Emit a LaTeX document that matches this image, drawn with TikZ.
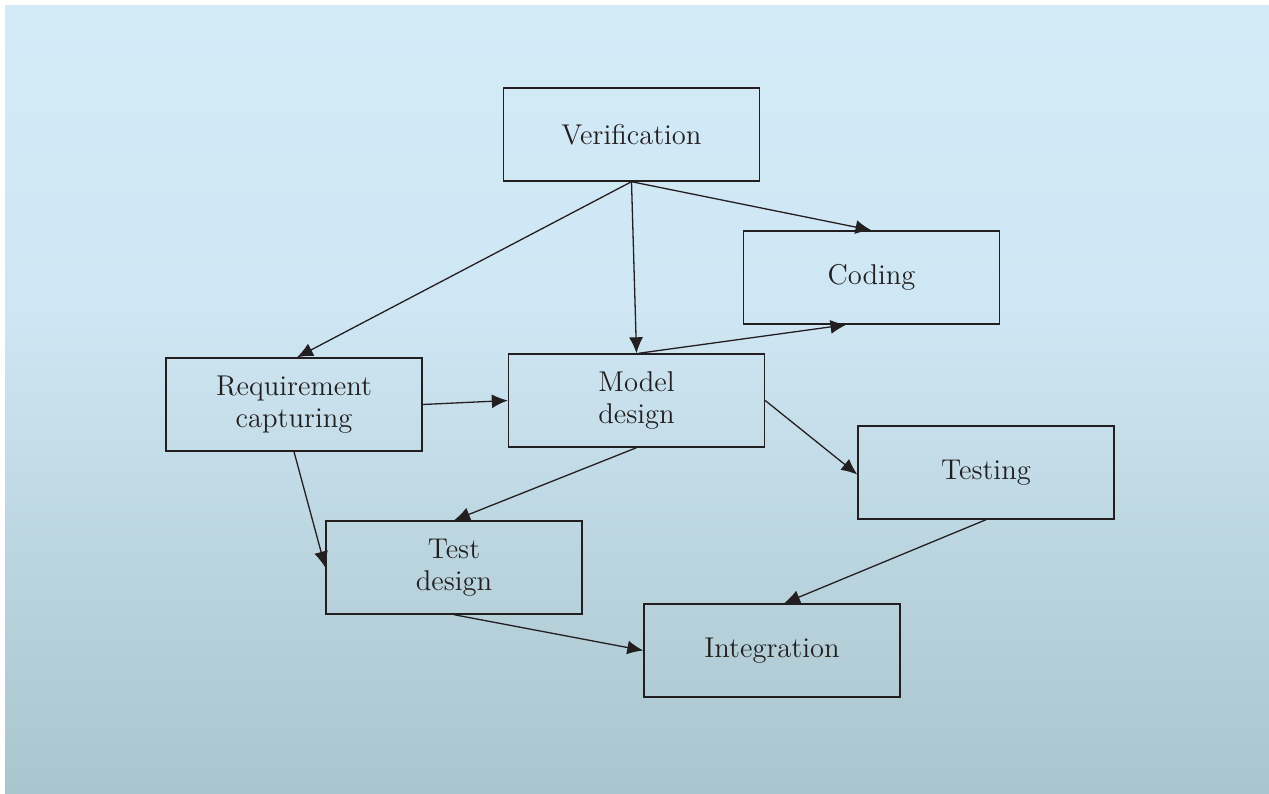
\documentclass[tikz,border=0pt]{standalone}
\usepackage{tikz}
\usetikzlibrary{arrows.meta,backgrounds}

\definecolor{bgtop}{RGB}{211,234,247}
\definecolor{bgmid}{RGB}{207,231,244}
\definecolor{bgbot}{RGB}{169,197,205}
\definecolor{boxline}{RGB}{35,31,32}
\pgfdeclareverticalshading{bgshade}{100bp}{color(0bp)=(bgbot); color(25bp)=(bgbot); color(56bp)=(bgmid); color(75bp)=(bgtop); color(100bp)=(bgtop)}

\tikzset{
	stage/.style={draw=boxline, line width=0.7pt, minimum width=128pt, minimum height=46.5pt, align=center, inner sep=2pt, font=\fontsize{14.3}{16}\selectfont, text=boxline},
	flow/.style={color=boxline, line width=0.65pt, -{Latex[length=8pt,width=7pt]}}
}

\begin{document}
\begin{tikzpicture}[x=0.5pt, y=-0.5pt]
		\useasboundingbox (0,0) rectangle (1269,793);
		\shade[shading=bgshade] (5,5) rectangle (1269,793);
		% stages of the flow
		\node[stage] (verif) at (631.5,134.5) {Verification};
		\node[stage] (cod) at (871.5,277.5) {Coding};
		\node[stage] (req) at (294,404.5) {Requirement\\capturing};
		\node[stage] (mod) at (636.5,400.5) {Model\\design};
		\node[stage] (tst) at (986,472.5) {Testing};
		\node[stage] (tsd) at (454,567.5) {Test\\design};
		\node[stage] (integ) at (772,650.5) {Integration};
		\path[flow]
		(verif.south) edge ([xshift=1.5pt]req.north)
		(verif.south) edge (mod.north)
		(verif.south) edge (cod.north)
		([xshift=1pt]mod.north) edge ([xshift=-12.5pt]cod.south)
		(req.east) edge (mod.west)
		(req.south) edge (tsd.west)
		(mod.south) edge (tsd.north)
		(mod.east) edge ([yshift=-1pt]tst.west)
		(tst.south) edge ([xshift=6pt]integ.north)
		(tsd.south) edge (integ.west)
		;
	\end{tikzpicture}
\end{document}
